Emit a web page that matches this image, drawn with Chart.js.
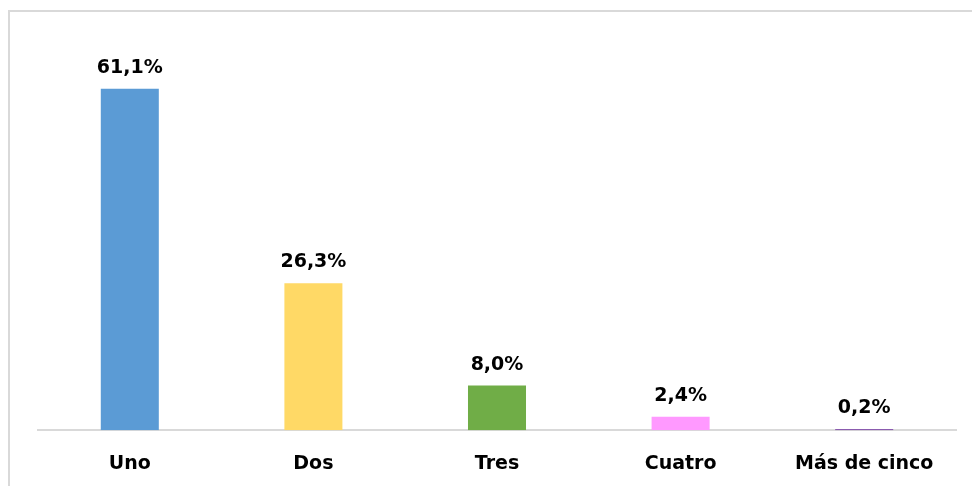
<!DOCTYPE html>
<html>
<head>
<meta charset="utf-8">
<script src="https://cdn.jsdelivr.net/npm/chart.js@4"></script>
<style>
  html, body { margin: 0; padding: 0; background: #fff; }
  #wrap { width: 972px; height: 486px; position: relative; }
</style>
</head>
<body>
<div id="wrap"><canvas id="chart" width="972" height="486"></canvas></div>
<script>
// categorías y valores
const CATEGORIES = ["Uno", "Dos", "Tres", "Cuatro", "Más de cinco"]
const VALUES = [61.1, 26.3, 8.0, 2.4, 0.2]
const COLORS = ["#5b9bd5", "#ffd966", "#70ad47", "#ff99ff", "#7030a0"]

const FONT = "'DejaVu Sans', sans-serif"


// formato de porcentaje
function pct(value) {
  return value.toFixed(1).replace(".", ",") + "%"
}


// marco gris del gráfico
const framePlugin = {
  id: "frame",
  beforeDraw(chart) {
    const ctx = chart.ctx
    ctx.save()
    ctx.strokeStyle = "#d9d9d9"
    ctx.lineWidth = 2
    ctx.strokeRect(9, 11, 1200, 1200)
    ctx.restore()
  },
}


// etiquetas encima de las barras
const labelPlugin = {
  id: "labels",
  afterDatasetsDraw(chart) {
    const ctx = chart.ctx
    const meta = chart.getDatasetMeta(0)

    ctx.save()
    ctx.font = "bold 19px " + FONT
    ctx.fillStyle = "#000"
    ctx.textAlign = "center"
    ctx.textBaseline = "alphabetic"

    meta.data.forEach(function (bar, i) {
      ctx.fillText(pct(VALUES[i]), bar.x, bar.y - 16)
    })

    ctx.restore()
  },
}


new Chart(document.getElementById("chart"), {
  type: "bar",
  data: {
    labels: CATEGORIES,
    datasets: [{
      data: VALUES,
      backgroundColor: COLORS,
      barPercentage: 0.316,
      categoryPercentage: 1,
    }],
  },
  options: {
    responsive: false,
    animation: false,
    layout: {
      padding: { left: 38, right: 16, top: 39, bottom: -12 },
    },
    plugins: {
      legend: { display: false },
      tooltip: { enabled: false },
    },
    scales: {
      x: {
        grid: { display: false, drawTicks: false },
        border: { display: true, color: "#d9d9d9", width: 2 },
        ticks: {
          color: "#000",
          padding: 22,
          font: { family: FONT, size: 19, weight: "bold", lineHeight: 1.25 },
        },
      },
      y: {
        display: false,
        min: 0,
        max: 70,
      },
    },
  },
  plugins: [framePlugin, labelPlugin],
})
</script>
</body>
</html>
